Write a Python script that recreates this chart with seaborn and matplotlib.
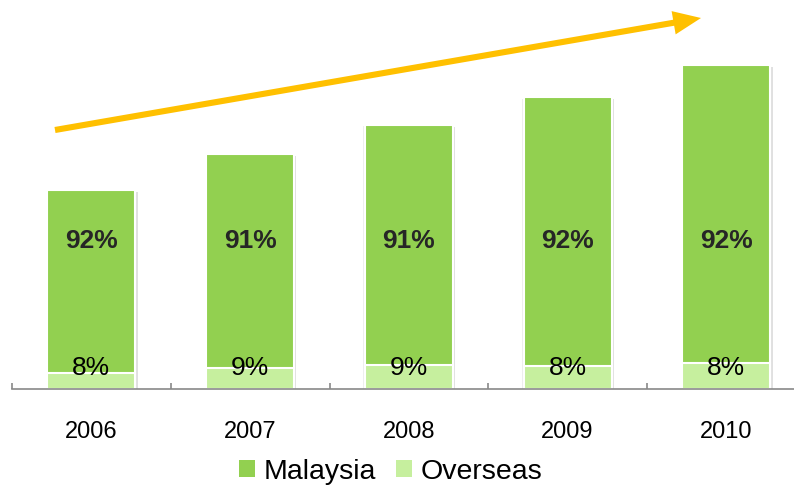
import matplotlib
matplotlib.use("Agg")
import matplotlib.pyplot as plt
import matplotlib.patheffects as pe
from matplotlib.patches import Patch
from matplotlib.ticker import FixedLocator
import numpy as np
import pandas as pd
import seaborn as sns

# Revenue index by year (2010 = 100) and the Malaysia share of it, in percent
years = ["2006", "2007", "2008", "2009", "2010"]
total_index = [61.4, 72.5, 81.5, 90.1, 100.0]
malaysia_share = [92, 91, 91, 92, 92]
overseas_share = [8, 9, 9, 8, 8]

malaysia_color = "#92D050"
overseas_color = "#C6EF9E"
arrow_color = "#FFC000"

df = pd.DataFrame({"year": years, "total": total_index,
                   "malaysia_pct": malaysia_share, "overseas_pct": overseas_share})
df["overseas"] = df["total"] * df["overseas_pct"] / 100.0
df["malaysia"] = df["total"] * df["malaysia_pct"] / 100.0

sns.set_style("white")
plt.rcParams["font.family"] = ["Liberation Sans", "DejaVu Sans"]
plt.rcParams["text.color"] = "black"

fig = plt.figure(figsize=(7.94, 4.89), dpi=100)
ax = fig.add_axes([12 / 794, 99 / 489, 793.75 / 794, 390 / 489])

shadow = [pe.SimplePatchShadow(offset=(1.5, -1.5), shadow_rgbFace="#909090", alpha=0.28),
          pe.SimplePatchShadow(offset=(-1.0, -1.0), shadow_rgbFace="#909090", alpha=0.15),
          pe.Normal()]

# Full bar (Malaysia on top), then the Overseas segment drawn over its base
sns.barplot(data=df, x="year", y="total", color=malaysia_color, saturation=1,
            width=0.555, edgecolor="white", linewidth=1.5, ax=ax)
for p in ax.patches:
    p.set_path_effects(shadow)
sns.barplot(data=df, x="year", y="overseas", color=overseas_color, saturation=1,
            width=0.555, edgecolor="white", linewidth=1.5, ax=ax)

for i, row in df.iterrows():
    ax.text(i, 46, f"{row['malaysia_pct']}%", ha="center", va="center",
            fontsize=19, fontweight="bold", color="#262626")
    ax.text(i, 6.9, f"{row['overseas_pct']}%", ha="center", va="center",
            fontsize=19, color="black")

ax.set_xlim(-0.5, 4.5)
ax.set_ylim(0, 120.4)
ax.set_xlabel("")
ax.set_ylabel("")
ax.set_yticks([])
for side in ("left", "right", "top"):
    ax.spines[side].set_visible(False)
ax.spines["bottom"].set_color("#898989")
ax.spines["bottom"].set_linewidth(1.2)

ax.xaxis.set_minor_locator(FixedLocator(np.arange(-0.5, 5.0, 1.0)))
ax.tick_params(axis="x", which="major", length=0, pad=22, labelsize=17, labelcolor="black")
ax.tick_params(axis="x", which="minor", direction="in", length=4, width=1.2,
               color="#898989", bottom=True)

# Growth arrow across the top
ax.annotate("", xy=(701 / 794, 1 - 19 / 489), xytext=(55 / 794, 1 - 131 / 489),
            xycoords="figure fraction", textcoords="figure fraction",
            arrowprops=dict(width=4.4, headwidth=17, headlength=20, shrink=0,
                            facecolor=arrow_color, edgecolor=arrow_color, linewidth=0))

handles = [Patch(facecolor=malaysia_color, edgecolor="none", label="Malaysia"),
           Patch(facecolor=overseas_color, edgecolor="none", label="Overseas")]
fig.legend(handles=handles, loc="center", bbox_to_anchor=(0.492, 0.034), ncol=2,
           frameon=False, fontsize=20.5, handlelength=0.55, handleheight=0.55,
           handletextpad=0.3, columnspacing=0.7, borderaxespad=0, borderpad=0,
           labelcolor="black")

fig.savefig("out.png", dpi=100)
